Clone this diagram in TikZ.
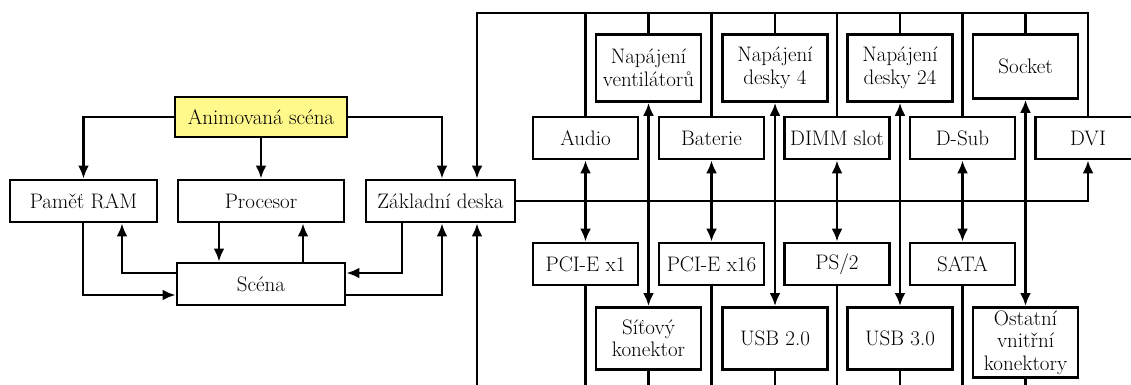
\documentclass[tikz,border=0pt]{standalone}
\usepackage{fontspec}
\usetikzlibrary{arrows.meta}

\begin{document}
\begin{tikzpicture}[x=1pt,y=-1pt,line width=2.8pt,>={Latex[length=13pt,width=11pt]},
    blok/.style={draw,fill=white,minimum width=105pt,minimum height=42pt,inner sep=3pt,
        align=center,font=\fontsize{21}{22.5}\selectfont},
    horni/.style={blok,anchor=north,minimum height=67pt},
    dolni/.style={blok,anchor=north,minimum height=62pt}]
    \clip (0,0) rectangle (1131,385);
    % leva cast
    \node[blok,fill=yellow!45,minimum width=172pt,minimum height=40pt] (anim) at (261,117) {Animovaná scéna};
    \node[blok,minimum width=147pt] (ram) at (83.5,201) {Paměť RAM};
    \node[blok,minimum width=166pt] (proc) at (261,201) {Procesor};
    \node[blok,minimum width=149pt] (zd) at (440.5,201) {Základní deska};
    \node[blok,minimum width=168pt] (scena) at (261,284) {Scéna};
    % prava cast - horni rada
    \node[horni] (vent) at (648.5,33) {Napájení\\ventilátorů};
    \node[horni] (nd4) at (775,33) {Napájení\\desky 4};
    \node[horni] (nd24) at (900,33) {Napájení\\desky 24};
    \node[horni,minimum height=64pt] (socket) at (1025.5,33) {Socket};
    \node[blok] (audio) at (585.5,138) {Audio};
    \node[blok] (bat) at (711.5,138) {Baterie};
    \node[blok] (dimm) at (837,138) {DIMM slot};
    \node[blok] (dsub) at (962.5,138) {D-Sub};
    \node[blok] (dvi) at (1088,138) {DVI};
    % prava cast - dolni rada
    \node[blok] (pci1) at (585.5,264) {PCI-E x1};
    \node[blok] (pci16) at (711.5,264) {PCI-E x16};
    \node[blok] (ps2) at (837,264) {PS/2};
    \node[blok] (sata) at (962.5,264) {SATA};
    \node[dolni] (sit) at (648.5,306) {Síťový\\konektor};
    \node[dolni] (usb2) at (775,306) {USB 2.0};
    \node[dolni] (usb3) at (900,306) {USB 3.0};
    \node[dolni] (ost) at (1025.5,306) {Ostatní\\vnitřní\\konektory};
    \coordinate (hb) at (477,13);
    \coordinate (db) at (477,385);

    \draw[->] (anim.west) -| (ram.north);
    \draw[->] (anim.south) -- (proc.north);
    \draw[->] (anim.east) -| ([xshift=1.5pt]zd.north);
    \draw[->] ([xshift=-0.5pt]ram.south) |- ([yshift=-11pt]scena.west);
    \draw[->] ([yshift=11pt]scena.west) -| ([xshift=38.5pt]ram.south);
    \draw[->] ([xshift=-42pt]proc.south) -- ([xshift=-42pt]proc.south |- scena.north);
    \draw[->] ([xshift=42pt]scena.north) -- ([xshift=42pt]scena.north |- proc.south);
    \draw[->] ([xshift=-38.5pt]zd.south) |- ([yshift=11pt]scena.east);
    \draw[->] ([yshift=-11pt]scena.east) -| ([xshift=1.5pt]zd.south);

    % sbernice nahore
    \draw[->] (dvi.north) |- (hb) -- (hb |- zd.north);
    \draw (audio.north) -- (audio.north |- hb);
    \draw (vent.north) -- (vent.north |- hb);
    \draw (bat.north) -- (bat.north |- hb);
    \draw (nd4.north) -- (nd4.north |- hb);
    \draw (dimm.north) -- (dimm.north |- hb);
    \draw (nd24.north) -- (nd24.north |- hb);
    \draw (dsub.north) -- (dsub.north |- hb);
    \draw (socket.north) -- (socket.north |- hb);
    % sbernice uprostred
    \draw[->] (zd.east) -| (dvi.south);
    \draw[<->] (audio.south) -- (pci1.north);
    \draw[<->] (vent.south) -- (sit.north);
    \draw[<->] (bat.south) -- (pci16.north);
    \draw[<->] (nd4.south) -- (usb2.north);
    \draw[<->] (dimm.south) -- (ps2.north);
    \draw[<->] (nd24.south) -- (usb3.north);
    \draw[<->] (dsub.south) -- (sata.north);
    \draw[<->] (socket.south) -- (ost.north);
    % sbernice dole
    \draw[->] (db) -- (db |- zd.south);
    \draw (pci1.south) -- (pci1.south |- db);
    \draw (sit.south) -- (sit.south |- db);
    \draw (pci16.south) -- (pci16.south |- db);
    \draw (usb2.south) -- (usb2.south |- db);
    \draw (ps2.south) -- (ps2.south |- db);
    \draw (usb3.south) -- (usb3.south |- db);
    \draw (sata.south) -- (sata.south |- db);
    \draw (ost.south) -- (ost.south |- db);
\end{tikzpicture}
\end{document}
